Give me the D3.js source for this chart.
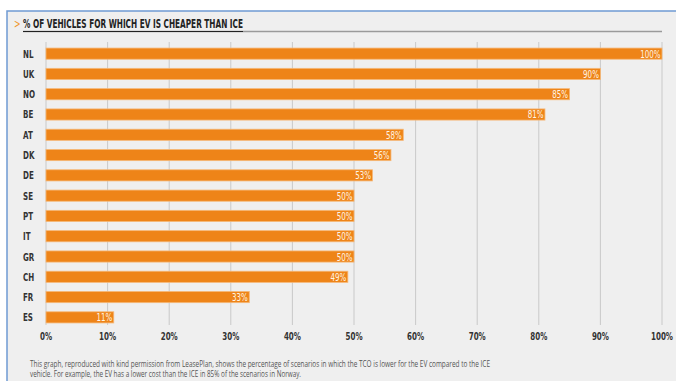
<!DOCTYPE html>
<html lang="en">
<head>
  <meta charset="utf-8">
  <title>EV cheaper than ICE</title>
  <style>
    body { margin: 0; background: #fff; }
    svg { display: block; }
    .cond { font-family: 'DejaVu Sans Condensed', 'DejaVu Sans', sans-serif; font-stretch: condensed; font-weight: bold; }
    .note { font-family: 'Open Sans', 'DejaVu Sans', sans-serif; font-size: 8.2px; fill: #555; }
  </style>
  <script src="https://d3js.org/d3.v7.min.js"></script>
</head>
<body>
  <svg id="chart" width="676" height="381"></svg>
  <script>
    // data
    var countries = ["NL", "UK", "NO", "BE", "AT", "DK", "DE", "SE", "PT", "IT", "GR", "CH", "FR", "ES"];
    var shares = [100, 90, 85, 81, 58, 56, 53, 50, 50, 50, 50, 49, 33, 11];
    var ticks = [0, 10, 20, 30, 40, 50, 60, 70, 80, 90, 100];
    var title = "% OF VEHICLES FOR WHICH EV IS CHEAPER THAN ICE";
    var note = [
      "This graph, reproduced with kind permission from LeasePlan, shows the percentage of scenarios in which the TCO is lower for the EV compared to the ICE",
      "vehicle. For example, the EV has a lower cost than the ICE in 85% of the scenarios in Norway."
    ];
    var noteWidths = [460, 271];

    var svg = d3.select("#chart");
    var squeeze = 0.72; // narrow poster-style lettering

    function place(px, py) {
      return "translate(" + px + "," + py + ") scale(" + squeeze + ",1)";
    }

    // panel
    svg.append("rect").attr("x", 7).attr("y", 11).attr("width", 680).attr("height", 380)
      .attr("fill", "#efefef").attr("stroke", "#6f9bd3").attr("stroke-width", 1.5);

    // title
    svg.append("text").attr("transform", place(14, 28)).attr("fill", "#f0962a")
      .attr("class", "cond").style("font-size", "12px").style("font-weight", "normal").text(">");
    svg.append("line").attr("x1", 23).attr("x2", 662).attr("y1", 31.5).attr("y2", 31.5)
      .attr("stroke", "#9a9a9a").attr("stroke-width", 1.5);
    svg.append("text").attr("transform", place(23, 28)).attr("fill", "#222")
      .attr("class", "cond").style("font-size", "12px")
      .attr("textLength", 220 / squeeze).attr("lengthAdjust", "spacingAndGlyphs")
      .text(title);
    svg.append("line").attr("x1", 23).attr("x2", 243).attr("y1", 31.5).attr("y2", 31.5)
      .attr("stroke", "#222").attr("stroke-width", 1.2);

    var x = d3.scaleLinear().domain([0, 100]).range([46, 662]);
    var y = d3.scaleBand().domain(countries).range([44, 327]).paddingInner(0.45).paddingOuter(0.2);

    // grid
    svg.append("g").selectAll("line").data(ticks).join("line")
      .attr("x1", d => x(d)).attr("x2", d => x(d))
      .attr("y1", 42).attr("y2", 325)
      .attr("stroke", "#c9c9c9").attr("stroke-width", 1);

    // bars
    var data = countries.map((c, i) => ({ c: c, v: shares[i] }));
    svg.append("g").selectAll("rect").data(data).join("rect")
      .attr("x", x(0)).attr("y", d => y(d.c))
      .attr("width", d => x(d.v) - x(0)).attr("height", y.bandwidth())
      .attr("fill", "#ee8418").attr("stroke", "#f6b877").attr("stroke-width", 0.8);

    svg.append("g").selectAll("text").data(data).join("text")
      .attr("class", "cond")
      .attr("transform", d => place(x(d.v) - 1.5, y(d.c) + y.bandwidth() / 2 + 4))
      .attr("text-anchor", "end").attr("fill", "#fff4e4")
      .style("font-size", "11px").style("font-weight", "normal")
      .text(d => d.v + "%");

    // category labels
    svg.append("g").selectAll("text").data(countries).join("text")
      .attr("class", "cond")
      .attr("transform", d => place(23, y(d) + y.bandwidth() / 2 + 4))
      .attr("fill", "#333").style("font-size", "11px")
      .text(d => d);

    // x axis labels
    svg.append("g").selectAll("text").data(ticks).join("text")
      .attr("class", "cond")
      .attr("transform", d => place(x(d), 339.5)).attr("text-anchor", "middle")
      .attr("fill", "#333").style("font-size", "11px")
      .text(d => d + "%");

    // footnote
    svg.append("g").selectAll("text").data(note).join("text")
      .attr("class", "note")
      .attr("x", 30).attr("y", (d, i) => 366.5 + i * 10.5)
      .attr("textLength", (d, i) => noteWidths[i]).attr("lengthAdjust", "spacingAndGlyphs")
      .text(d => d);
  </script>
</body>
</html>
